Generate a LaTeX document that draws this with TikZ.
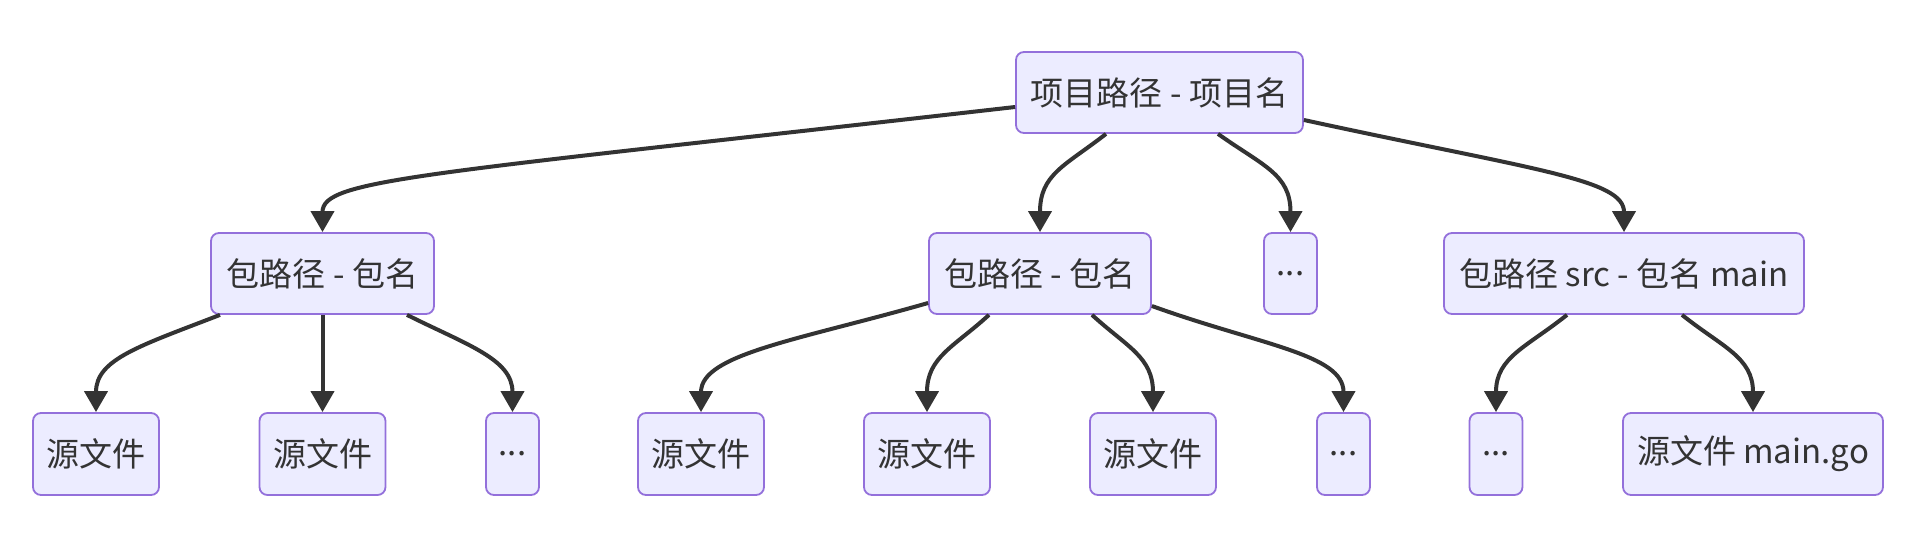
\documentclass[tikz,border=0pt]{standalone}
\usepackage{fontspec}
\setmainfont{Noto Sans CJK SC}
\usetikzlibrary{arrows.meta,calc}
\definecolor{nodefill}{HTML}{ECECFF}
\definecolor{nodeborder}{HTML}{9370DB}
\definecolor{edgecol}{HTML}{333333}
\definecolor{textcol}{HTML}{333333}
\begin{document}
\begin{tikzpicture}[x=0.5pt,y=-0.5pt,
  box/.style={draw=nodeborder, fill=nodefill, line width=0.9pt, rounded corners=4pt,
    inner sep=0pt, text=textcol, font=\fontsize{16.5pt}{19pt}\selectfont},
  lvltwo/.style={box, minimum height=40.5pt},
  lvlthree/.style={box, minimum height=41pt},
  edge/.style={draw=edgecol, line width=2pt, -{Triangle[length=10.5pt,width=11.5pt]}}]
\useasboundingbox (0,0) rectangle (1924,539);
% nodes
\node[lvltwo, minimum width=143.5pt] (root) at (1159.5,92.5) {项目路径 - 项目名};
\node[lvltwo, minimum width=111.5pt] (p1) at (322.5,273.5) {包路径 - 包名};
\node[lvltwo, minimum width=111pt] (p2) at (1040,273.5) {包路径 - 包名};
\node[lvltwo, minimum width=26.5pt] (d1) at (1290.5,273.5) {...};
\node[lvltwo, minimum width=180pt] (p4) at (1624,273.5) {包路径 src - 包名 main};
\node[lvlthree, minimum width=63pt] (s1) at (96,454) {源文件};
\node[lvlthree, minimum width=63pt] (s2) at (322.5,454) {源文件};
\node[lvlthree, minimum width=26.5pt] (d2) at (512.5,454) {...};
\node[lvlthree, minimum width=63pt] (s3) at (701,454) {源文件};
\node[lvlthree, minimum width=63pt] (s4) at (927,454) {源文件};
\node[lvlthree, minimum width=63pt] (s5) at (1153,454) {源文件};
\node[lvlthree, minimum width=26.5pt] (d3) at (1343.5,454) {...};
\node[lvlthree, minimum width=26.5pt] (d4) at (1496,454) {...};
\node[lvlthree, minimum width=130pt] (s6) at (1753,454) {源文件 main.go};
% edges
\draw[edge] ($(root.west)+(0,14.5)$) .. controls +(-596,68) and +(0,-53) .. (p1.north);
\draw[edge] ($(root.south)+(-53.5,0)$) .. controls +(-41,32) and +(0,-58) .. (p2.north);
\draw[edge] ($(root.south)+(58.5,0)$) .. controls +(45,32) and +(0,-58) .. (d1.north);
\draw[edge] ($(root.east)+(0,27.5)$) .. controls +(230,50) and +(0,-53) .. (p4.north);
\draw[edge] ($(p1.south)+(-102.5,0)$) .. controls +(-80,31) and +(0,-53) .. (s1.north);
\draw[edge] (p1.south) -- (s2.north);
\draw[edge] ($(p1.south)+(84.5,0)$) .. controls +(60,30) and +(0,-53) .. (d2.north);
\draw[edge] ($(p2.west)+(0,29.5)$) .. controls +(-129,37) and +(0,-58) .. (s3.north);
\draw[edge] ($(p2.south)+(-51,0)$) .. controls +(-35,32) and +(0,-55) .. (s4.north);
\draw[edge] ($(p2.south)+(52,0)$) .. controls +(35,32) and +(0,-55) .. (s5.north);
\draw[edge] ($(p2.east)+(0,32.5)$) .. controls +(108,39) and +(0,-58) .. (d3.north);
\draw[edge] ($(p4.south)+(-57,0)$) .. controls +(-40,32) and +(0,-55) .. (d4.north);
\draw[edge] ($(p4.south)+(58,0)$) .. controls +(40,32) and +(0,-55) .. (s6.north);
\end{tikzpicture}
\end{document}
